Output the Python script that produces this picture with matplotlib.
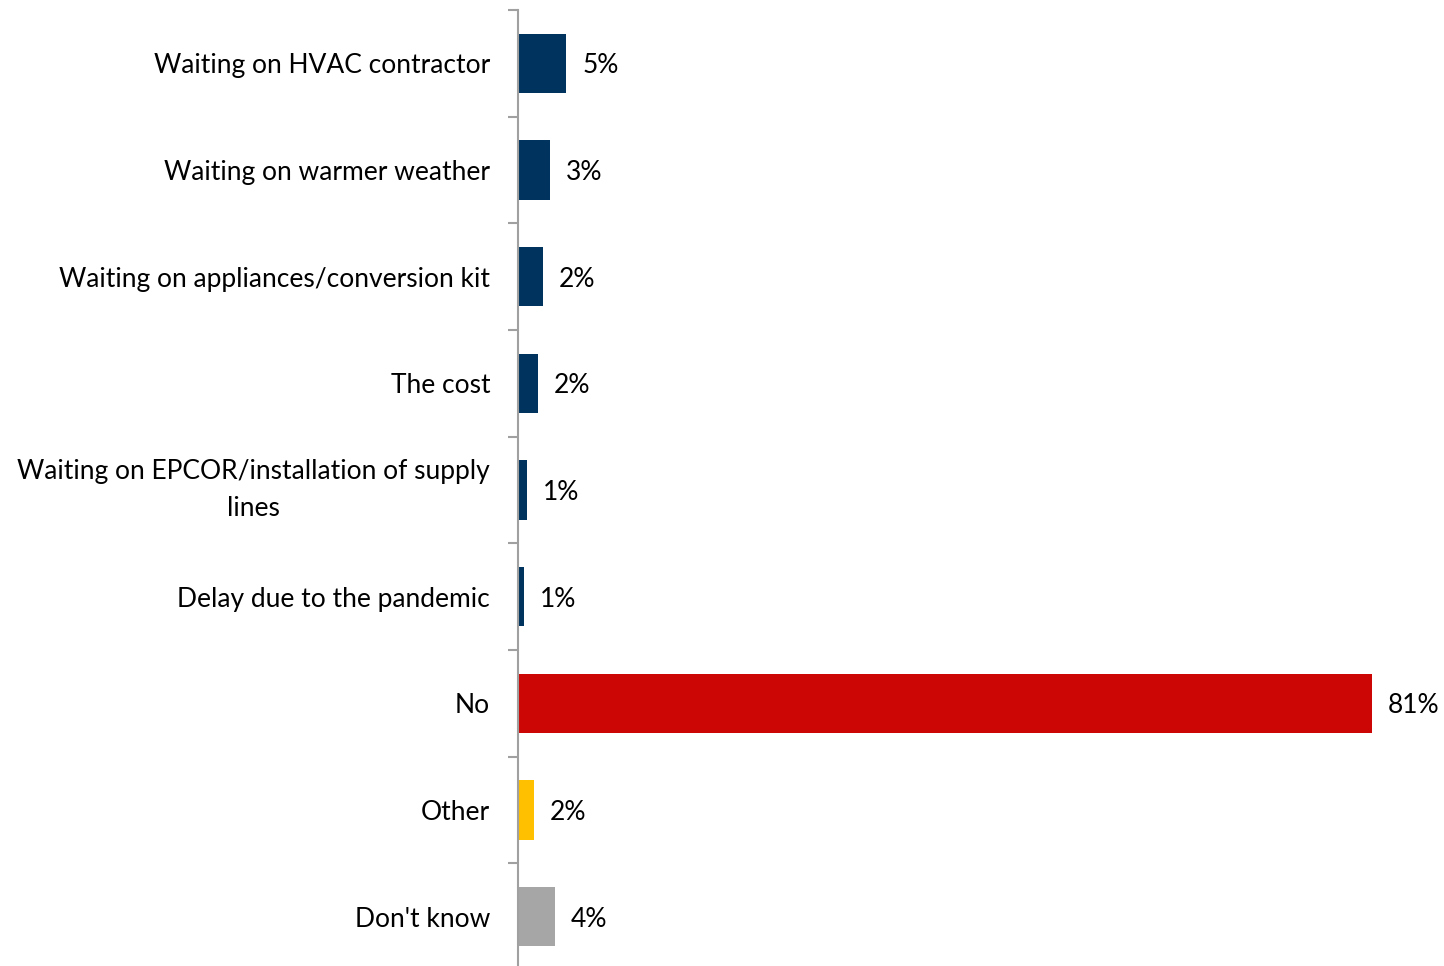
import matplotlib
matplotlib.use("Agg")
import matplotlib.pyplot as plt
import numpy as np

plt.rcParams["font.family"] = ["Lato", "DejaVu Sans"]

categories = [
    "Waiting on HVAC contractor",
    "Waiting on warmer weather",
    "Waiting on appliances/conversion kit",
    "The cost",
    "Waiting on EPCOR/installation of supply\nlines",
    "Delay due to the pandemic",
    "No",
    "Other",
    "Don't know",
]
values = [4.6, 3.0, 2.4, 1.9, 0.9, 0.6, 81.0, 1.5, 3.5]
value_labels = ["5%", "3%", "2%", "2%", "1%", "1%", "81%", "2%", "4%"]
colors = ["#00335E"] * 6 + ["#CC0605", "#FFC000", "#A6A6A6"]

fig = plt.figure(figsize=(14.44, 9.66), dpi=100)
# axes runs a few px past the bottom edge, like the original
ax = fig.add_axes([518 / 1444, -4 / 966, (1372 - 518) / 1444, 960 / 966])

y = np.arange(len(categories))
ax.barh(y, values, height=0.555, color=colors, zorder=2)
ax.set_ylim(len(categories) - 0.5, -0.5)
ax.set_xlim(0, 81)

for yi, v, lab in zip(y, values, value_labels):
    ax.text(v + 1.5, yi, lab, va="center_baseline", ha="left", fontsize=19, clip_on=False)

ax.set_yticks(y)
ax.set_yticklabels(categories, fontsize=19)
for t in ax.get_yticklabels():
    if "\n" in t.get_text():
        t.set_multialignment("center")
        t.set_linespacing(1.6)
        t.set_verticalalignment("center")
ax.tick_params(axis="y", which="major", length=0, pad=20)
ax.set_yticks(np.arange(-0.5, len(categories) - 0.5, 1), minor=True)
ax.tick_params(axis="y", which="minor", length=7, width=1.5, color="#A0A0A0", direction="out")
ax.set_xticks([])

for s in ["top", "right", "bottom"]:
    ax.spines[s].set_visible(False)
ax.spines["left"].set_color("#A0A0A0")
ax.spines["left"].set_linewidth(1.5)

fig.savefig("out.png", dpi=100)
